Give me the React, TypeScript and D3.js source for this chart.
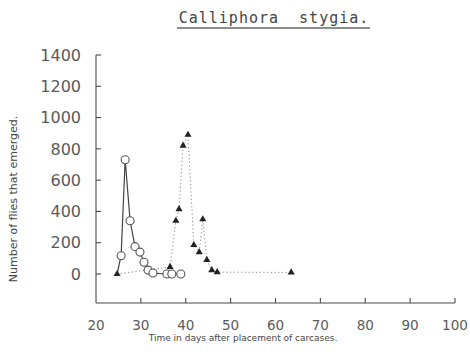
import React from "react";
import * as d3 from "d3";

// Circles series (solid line)
const circleDays = [25.6, 26.5, 27.6, 28.7, 29.8, 30.7, 31.6, 32.7, 35.8, 36.9, 38.9];
const circleValues = [117, 730, 340, 175, 140, 75, 25, 6, 0, 0, 0];

// Triangles series (dotted line)
const triDays = [24.7, 36.5, 37.8, 38.5, 39.4, 40.5, 41.8, 43.0, 43.8, 44.7, 45.8, 47.0, 63.5];
const triValues = [0, 45, 340, 415, 820, 890, 185, 140, 350, 90, 25, 12, 10];

const yTicks = [0, 200, 400, 600, 800, 1000, 1200, 1400];
const xTicks = [20, 30, 40, 50, 60, 70, 80, 90, 100];

const title = "Calliphora\u00a0\u00a0stygia.";
const xTitle = "Time in days after placement of carcases.";
const yTitle = "Number of flies that emerged.";

export default function App() {
  const W = 470, H = 354;
  const x = d3.scaleLinear().domain([20, 100]).range([96, 455]);
  const y = d3.scaleLinear().domain([0, 1400]).range([274, 55]);
  const axisY = 303;

  const circles = circleDays.map((d, i) => ({ d, v: circleValues[i] }));
  const tris = triDays.map((d, i) => ({ d, v: triValues[i] }));
  const lineGen = d3.line<{ d: number; v: number }>().x(p => x(p.d)).y(p => y(p.v));
  const lineA = lineGen([tris[0], ...circles]) || "";
  const lineB = lineGen(tris) || "";
  const triPath = d3.symbol().type(d3.symbolTriangle).size(22)() || "";

  const grey = "#4a4a4a";

  return (
    <svg width={W} height={H} style={{ position: "absolute", left: 0, top: 0, background: "#fff" }}>
      {/* title */}
      <text x={274} y={23} textAnchor="middle" fontFamily="DejaVu Sans Mono" fontSize={15} letterSpacing={1} fill="#444">{title}</text>
      <line x1={177} x2={370} y1={28} y2={28} stroke="#666" strokeWidth={1.3} />

      {/* y axis */}
      <line x1={96} x2={96} y1={y(1400)} y2={axisY} stroke={grey} strokeWidth={1.1} />
      {yTicks.map(t => (
        <g key={t}>
          <line x1={96} x2={101} y1={y(t)} y2={y(t)} stroke={grey} strokeWidth={1.1} />
          <text x={81} y={y(t)} dy="0.36em" textAnchor="end" fontFamily="DejaVu Sans" fontSize={16} fill="#5a5a5a">{t}</text>
        </g>
      ))}
      <text transform={`translate(17,${199}) rotate(-90)`} textAnchor="middle" fontFamily="DejaVu Sans" fontSize={11} fill="#444">{yTitle}</text>

      {/* x axis */}
      <line x1={96} x2={455} y1={axisY} y2={axisY} stroke={grey} strokeWidth={1.1} />
      {xTicks.map(t => (
        <g key={t}>
          {t > 20 && <line x1={x(t)} x2={x(t)} y1={axisY} y2={axisY - 5} stroke={grey} strokeWidth={1.1} />}
          <text x={x(t)} y={330} textAnchor="middle" fontFamily="DejaVu Sans" fontSize={13.5} fill="#5a5a5a">{t}</text>
        </g>
      ))}
      <text x={243} y={341} textAnchor="middle" fontFamily="DejaVu Sans" fontSize={9} fill="#444">{xTitle}</text>

      {/* series B dotted */}
      <path d={lineB} fill="none" stroke="#888" strokeWidth={1} strokeDasharray="1.2,2.5" />
      {/* series A solid */}
      <path d={lineA} fill="none" stroke="#444" strokeWidth={1.2} />
      {circles.map((p, i) => (
        <circle key={i} cx={x(p.d)} cy={y(p.v)} r={4} fill="#fff" stroke="#555" strokeWidth={1.1} />
      ))}
      {tris.map((p, i) => (
        <path key={i} d={triPath} transform={`translate(${x(p.d)},${y(p.v)})`} fill="#222" />
      ))}
    </svg>
  );
}
